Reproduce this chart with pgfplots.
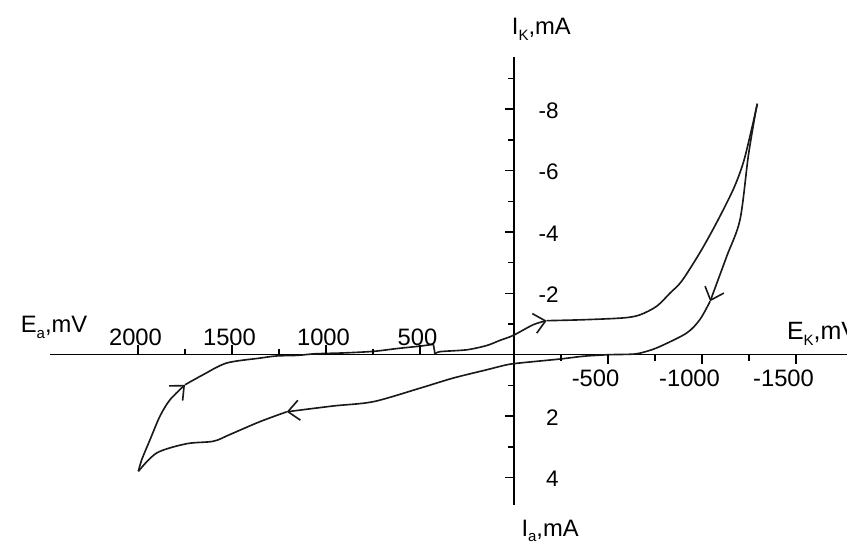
\documentclass[border=0pt]{standalone}
\usepackage{fontspec}
\setmainfont{Liberation Sans}
\usepackage{pgfplots}
\pgfplotsset{compat=1.18}
\usetikzlibrary{arrows.meta}

% common frame: all axes share size and limits so they overlay exactly
\pgfplotsset{
  cvbase/.style={
    scale only axis, width=318.8pt, height=179.2pt,
    x dir=reverse, y dir=reverse,
    xmin=-1771, xmax=2468, ymin=-9.71, ymax=4.89,
    axis lines=middle, axis line style={-, line width=0.6pt},
    clip=false,
    /pgf/number format/assume math mode=true,
    /pgf/number format/set thousands separator={},
    scaled ticks=false,
    major tick length=3.8pt, minor tick length=2.4pt,
    every tick/.style={black, line width=0.6pt},
    xticklabel style={font=\fontsize{9.5}{11}\selectfont, inner sep=0pt},
    yticklabel style={font=\fontsize{9}{11}\selectfont, inner sep=0pt},
  },
  tickonly/.style={cvbase, axis y line=none, x axis line style={draw=none}},
  cv/.style={black!90, line width=0.65pt, mark=none, smooth, tension=0.5},
  cvarr/.style={cv, -{Straight Barb[length=4.5pt, width=8pt, line width=0.65pt]}},
}
\tikzset{lab/.style={anchor=base west, font=\fontsize{9.5}{11}\selectfont}}
\newcommand{\sub}[1]{\raisebox{-2.2pt}{\fontsize{6}{7}\selectfont #1}}

\begin{document}
\begin{tikzpicture}
% axis A: curve, both axis lines, y ticks
\begin{axis}[cvbase,
  xtick=\empty,
  ytick={-8,-6,-4,-2,2,4}, minor ytick={-9,-7,-5,-3,-1,1,3},
  tick align=inside,
  yticklabel style={anchor=east, xshift=18pt, yshift=-0.6pt},
]
% up the left branch to the step near 500 mV
\addplot[cv] coordinates {
 (1750,0.98) (1653,0.65) (1528,0.27) (1351,0.11) (1262,0.04) (1150,0.02)
 (1058,-0.03) (900,-0.06) (747,-0.11) (624,-0.20) (500,-0.28) (429,-0.34)};
\addplot[black!90, line width=0.65pt, mark=none] coordinates {(429,-0.34) (420,-0.02)};
% on to the plateau arrow
\addplot[cvarr] coordinates {
 (420,-0.02) (393,-0.10) (252,-0.16) (145,-0.30) (74,-0.47)
 (4,-0.63) (-103,-0.98) (-174,-1.11)};
% plateau -> peak
\addplot[cv] coordinates {
 (-174,-1.11) (-369,-1.14) (-582,-1.20) (-670,-1.30) (-759,-1.58) (-830,-2.01)
 (-892,-2.40) (-989,-3.33) (-1078,-4.31) (-1167,-5.40) (-1220,-6.27)
 (-1264,-7.36) (-1294,-8.18)};
% peak -> descending arrow
\addplot[cvarr] coordinates {
 (-1294,-8.18) (-1282,-7.80) (-1246,-6.47) (-1202,-4.40) (-1131,-3.20)
 (-1043,-1.74)};
% back along the axis -> lower left arrow
\addplot[cvarr] coordinates {
 (-1043,-1.74) (-989,-1.15) (-919,-0.71) (-777,-0.27) (-700,-0.10)
 (-635,-0.02) (-500,0.00) (-368,0.05) (-245,0.14) (0,0.29) (74,0.38)
 (145,0.49) (323,0.76) (500,1.09) (748,1.53) (961,1.67) (1209,1.86)};
% to the vertex
\addplot[cv] coordinates {
 (1209,1.86) (1351,2.18) (1511,2.60) (1599,2.82) (1741,2.90) (1900,3.20)
 (1998,3.80)};
% up the left branch -> arrow
\addplot[cvarr] coordinates {
 (1998,3.80) (1980,3.42) (1936,2.77) (1883,2.00) (1830,1.47) (1750,0.98)};

\node[lab] at (axis cs:2670,-0.72) {E\sub{a},mV};
\node[lab, font=\fontsize{10}{12}\selectfont] at (axis cs:-1405,-0.48) {E\sub{K},mV};
\node[lab] at (axis cs:58,-10.42) {I\sub{K},mA};
\node[lab] at (axis cs:7,5.92) {I\sub{a},mA};
\coordinate (bbA) at (axis cs:2734,-11.56);
\coordinate (bbB) at (axis cs:-1771,6.09);
\end{axis}
% axis B: positive E ticks, pointing up, labels above
\begin{axis}[tickonly,
  xtick={500,1000,1500,2000}, minor xtick={750,1250,1750},
  tick align=outside,
  xticklabel style={anchor=south, yshift=7.1pt, xshift=-1pt},
]
\end{axis}
% axis C: negative E ticks, pointing down, labels below
\begin{axis}[tickonly,
  xtick={-500,-1000,-1500}, minor xtick={-250,-750,-1250},
  tick align=inside,
  xticklabel style={anchor=north, yshift=-6pt, xshift=-5pt},
]
\end{axis}
\pgfresetboundingbox
\path (bbA) rectangle (bbB);
\end{tikzpicture}
\end{document}
